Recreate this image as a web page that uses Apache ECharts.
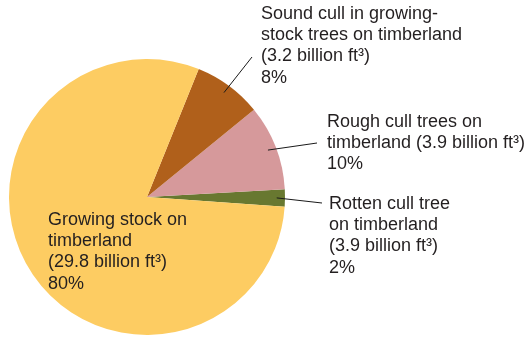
<!DOCTYPE html>
<html>
<head>
<meta charset="utf-8">
<script src="https://cdn.jsdelivr.net/npm/echarts@6/dist/echarts.min.js"></script>
<style>
  html, body { margin: 0; padding: 0; background: #fff; }
  #chart { width: 525px; height: 339px; }
</style>
</head>
<body>
<div id="chart"></div>
<script>
// Timberland volume by component (counter-clockwise from the right)
const categories = [
  'Rotten cull tree on timberland',
  'Rough cull trees on timberland',
  'Sound cull in growing-stock trees on timberland',
  'Growing stock on timberland'
];
const percents = [2, 10, 8, 80];
const volumes = [3.9, 3.9, 3.2, 29.8]; // billion ft³
const labelTexts = [
  'Rotten cull tree\non timberland\n(3.9 billion ft³)\n2%',
  'Rough cull trees on\ntimberland (3.9 billion ft³)\n10%',
  'Sound cull in growing-\nstock trees on timberland\n(3.2 billion ft³)\n8%',
  'Growing stock on\ntimberland\n(29.8 billion ft³)\n80%'
];
const colors = ['#687830', '#D6999B', '#B0601B', '#FDCC62'];

// Pie geometry
const cx = 147, cy = 197, R = 138, startAngle = -4;
// Label anchor (top-left of text block) and leader line end per slice
const labelPos = [[329, 193], [327, 111], [261, 3], [48, 209]];
const lineEnd = [[322, 203], [317, 143], [252, 57], null];

const total = percents.reduce((a, b) => a + b, 0);
const midAngles = [];
let acc = startAngle;
percents.forEach(v => {
  const span = v / total * 360;
  midAngles.push(acc + span / 2);
  acc += span;
});

// Leader lines start inside each slice, on its middle angle
const leaderLines = [];
percents.forEach((v, i) => {
  if (!lineEnd[i]) return;
  const a = midAngles[i] * Math.PI / 180;
  leaderLines.push({
    type: 'line',
    silent: true,
    z: 10,
    shape: {
      x1: cx + 0.94 * R * Math.cos(a),
      y1: cy - 0.94 * R * Math.sin(a),
      x2: lineEnd[i][0],
      y2: lineEnd[i][1]
    },
    style: { stroke: '#1a1a1a', lineWidth: 1 }
  });
});

const chart = echarts.init(document.getElementById('chart'), null, { renderer: 'canvas' });
chart.setOption({
  animation: false,
  backgroundColor: '#ffffff',
  graphic: leaderLines,
  series: [{
    type: 'pie',
    center: [cx, cy],
    radius: R,
    startAngle: startAngle,
    clockwise: false,
    avoidLabelOverlap: false,
    silent: true,
    itemStyle: { borderWidth: 0 },
    label: {
      show: true,
      position: 'outside',
      color: '#231F20',
      fontFamily: 'Liberation Sans, Arial, sans-serif',
      fontSize: 18,
      lineHeight: 21.3,
      align: 'left'
    },
    labelLine: { show: false },
    labelLayout: function (p) {
      const i = p.dataIndex;
      return {
        x: labelPos[i][0],
        y: labelPos[i][1],
        align: 'left',
        verticalAlign: 'top'
      };
    },
    data: categories.map((name, i) => ({
      name: name,
      value: percents[i],
      volume: volumes[i],
      itemStyle: { color: colors[i] },
      label: { formatter: labelTexts[i] }
    }))
  }]
});
</script>
</body>
</html>
